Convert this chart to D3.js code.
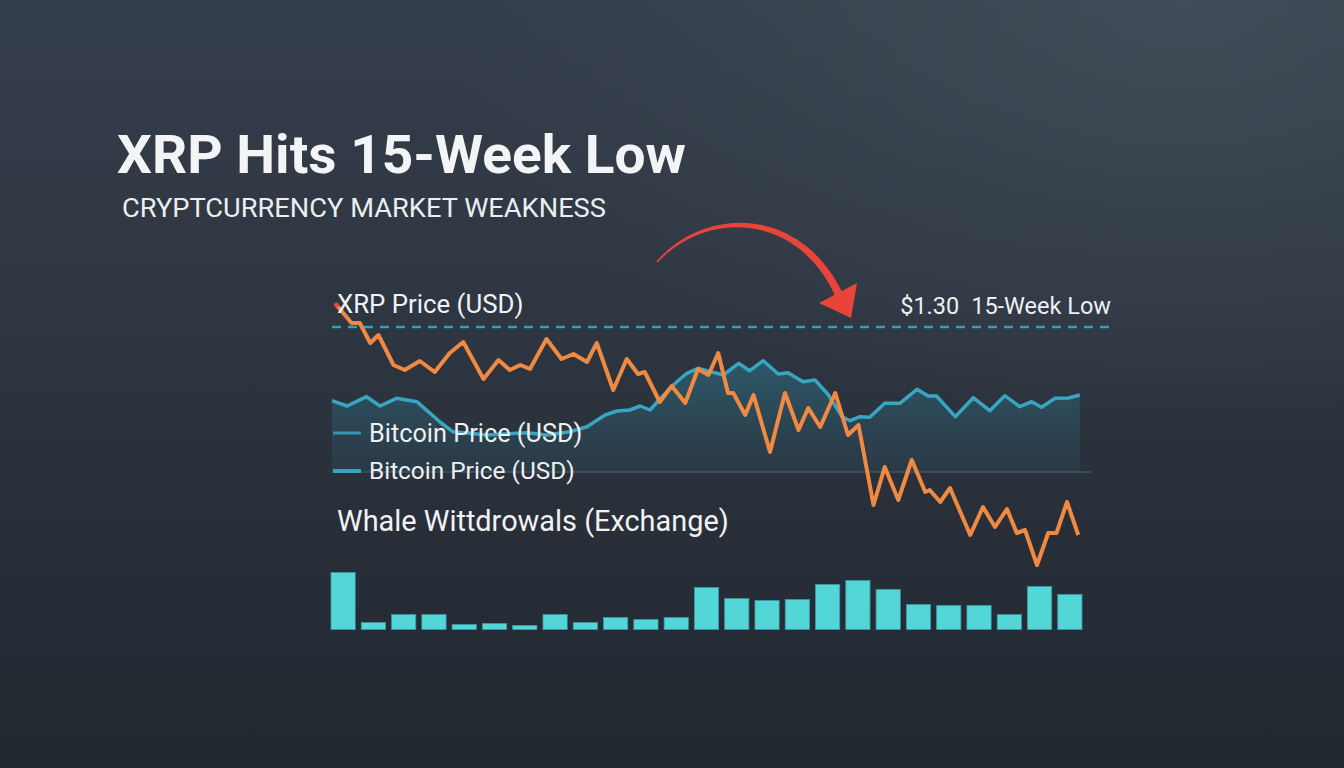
<!DOCTYPE html>
<html>
<head>
<meta charset="utf-8">
<script src="https://cdn.jsdelivr.net/npm/d3@7"></script>
<style>
  html, body { margin: 0; padding: 0; background: #2b323c; }
  #chart { width: 1344px; height: 768px; }
  text { font-family: Roboto, "Noto Sans", sans-serif; }
</style>
</head>
<body>
<div id="chart"></div>
<script>
// XRP price (day index along the 15-week window, price in USD)
const xrpDays = [0.6, 2.6, 3.7, 5.1, 6.2, 8.2, 9.7, 11.7, 13.7, 15.7, 17.5, 20.2, 22.2, 23.7, 25.1, 26.4,
  28.6, 30.6, 32.2, 34.0, 35.3, 37.5, 39.3, 40.8, 41.7, 43.7, 45.3, 47.1, 48.8, 50.2, 51.5, 52.8, 53.5,
  55.1, 56.2, 58.4, 60.4, 62.2, 63.5, 65.1, 67.1, 68.8, 70.2, 72.2, 73.7, 75.5, 77.3, 79.1, 79.7, 81.1,
  82.4, 85.1, 86.8, 88.4, 90.0, 91.3, 92.4, 94.0, 95.5, 96.6, 98.0, 99.5];
const xrpPrice = [1.322, 1.304, 1.304, 1.284, 1.292, 1.262, 1.257, 1.266, 1.255, 1.274, 1.285, 1.248, 1.267,
  1.257, 1.262, 1.258, 1.288, 1.268, 1.273, 1.265, 1.284, 1.237, 1.268, 1.253, 1.255, 1.225, 1.241, 1.224,
  1.258, 1.252, 1.274, 1.234, 1.234, 1.212, 1.232, 1.175, 1.234, 1.197, 1.219, 1.200, 1.234, 1.192, 1.202,
  1.122, 1.160, 1.127, 1.167, 1.135, 1.137, 1.125, 1.139, 1.092, 1.120, 1.100, 1.118, 1.094, 1.097, 1.062,
  1.094, 1.094, 1.125, 1.092];

// Bitcoin price
const btcDays = [0, 2.0, 4.6, 6.4, 8.6, 11.3, 13.1, 14.4, 16.1, 18.4, 20.6, 22.8, 26.0, 28.6, 31.7, 34.0,
  36.4, 38.0, 39.7, 41.1, 42.4, 43.7, 45.5, 47.3, 48.8, 50.0, 52.2, 54.2, 55.7, 57.5, 59.5, 60.8, 62.8,
  64.4, 66.2, 68.0, 69.1, 70.4, 71.7, 73.7, 75.7, 78.0, 79.5, 80.6, 83.1, 85.5, 87.7, 89.7, 91.7, 93.3,
  94.6, 96.4, 98.2, 99.7];
const btcPrice = [89860, 88800, 90660, 88800, 90340, 89660, 87340, 85600, 83660, 83340, 83000, 83200, 83460,
  83000, 83660, 84660, 87000, 87800, 88000, 88800, 88000, 90140, 93000, 95340, 96340, 95860, 95000, 97340,
  95860, 97860, 95200, 95460, 93660, 94000, 91000, 86660, 85860, 86660, 86540, 89340, 89340, 92140, 90800,
  90800, 86660, 90460, 87860, 90860, 88660, 89660, 88540, 90340, 90400, 91000];

// Whale withdrawals from exchanges, one bar per period
const whaleWithdrawals = [57, 7, 15, 15, 5, 6, 4, 15, 7, 12, 10, 12, 42, 31, 29, 30, 45, 49, 40, 25, 24, 24, 15, 43, 35];

const lowPrice = 1.30;
const titleText = "XRP Hits 15-Week Low";
const subtitleText = "CRYPTCURRENCY MARKET WEAKNESS";
const xrpLabel = "XRP Price (USD)";
const btcLabels = ["Bitcoin Price (USD)", "Bitcoin Price (USD)"];
const lowLabel = ["$1.30", "15-Week Low"];
const barsLabel = "Whale Wittdrowals (Exchange)";

const width = 1344, height = 768;

const svg = d3.select("#chart")
    .append("svg")
    .attr("width", width)
    .attr("height", height);

const defs = svg.append("defs");

// background
const bg = defs.append("linearGradient")
    .attr("id", "bg")
    .attr("x1", "0%").attr("y1", "0%")
    .attr("x2", "0%").attr("y2", "100%");
bg.append("stop").attr("offset", "0%").attr("stop-color", "#343e4a");
bg.append("stop").attr("offset", "45%").attr("stop-color", "#2d3540");
bg.append("stop").attr("offset", "100%").attr("stop-color", "#21272f");

const glow = defs.append("radialGradient")
    .attr("id", "glow")
    .attr("cx", "88%").attr("cy", "0%").attr("r", "55%");
glow.append("stop").attr("offset", "0%").attr("stop-color", "#44505b").attr("stop-opacity", 0.75);
glow.append("stop").attr("offset", "100%").attr("stop-color", "#44505b").attr("stop-opacity", 0);

svg.append("rect").attr("width", width).attr("height", height).attr("fill", "url(#bg)");
svg.append("rect").attr("width", width).attr("height", height).attr("fill", "url(#glow)");

// titles
svg.append("text")
    .attr("x", 117).attr("y", 173)
    .style("font-size", "53px")
    .style("font-weight", "700")
    .attr("fill", "#f3f4f5")
    .attr("textLength", 569)
    .attr("lengthAdjust", "spacingAndGlyphs")
    .text(titleText);

svg.append("text")
    .attr("x", 122).attr("y", 217)
    .style("font-size", "26px")
    .attr("fill", "#eceef0")
    .attr("textLength", 484)
    .attr("lengthAdjust", "spacingAndGlyphs")
    .text(subtitleText);

// scales
const x = d3.scaleLinear().domain([0, 100]).range([332, 1082]);
const yXrp = d3.scaleLinear().domain([1.05, 1.35]).range([577, 277]);
const yBtc = d3.scaleLinear().domain([80000, 100000]).range([450, 350]);
const baseY = 472;

// area under bitcoin
const areaGrad = defs.append("linearGradient")
    .attr("id", "btc-area")
    .attr("x1", "0%").attr("y1", "0%")
    .attr("x2", "0%").attr("y2", "100%");
areaGrad.append("stop").attr("offset", "0%").attr("stop-color", "#2f6579").attr("stop-opacity", 0.75);
areaGrad.append("stop").attr("offset", "100%").attr("stop-color", "#2b4a58").attr("stop-opacity", 0.35);

const btcData = btcDays.map((d, i) => [d, btcPrice[i]]);
const xrpData = xrpDays.map((d, i) => [d, xrpPrice[i]]);

svg.append("path")
    .datum(btcData)
    .attr("d", d3.area().x(d => x(d[0])).y0(baseY).y1(d => yBtc(d[1])))
    .attr("fill", "url(#btc-area)");

svg.append("line")
    .attr("x1", 332).attr("x2", 1092)
    .attr("y1", baseY).attr("y2", baseY)
    .attr("stroke", "#3d5663")
    .attr("stroke-width", 1.5);

// 15-week low reference line
svg.append("line")
    .attr("x1", 332).attr("x2", 1116)
    .attr("y1", yXrp(lowPrice)).attr("y2", yXrp(lowPrice))
    .attr("stroke", "#2f9fc2")
    .attr("stroke-width", 2.5)
    .attr("stroke-dasharray", "9,7");

svg.append("path")
    .datum(btcData)
    .attr("d", d3.line().x(d => x(d[0])).y(d => yBtc(d[1])))
    .attr("fill", "none")
    .attr("stroke", "#38a5c1")
    .attr("stroke-width", 3.5)
    .attr("stroke-linejoin", "round");

// legend for bitcoin
const legend = svg.append("g");
legend.selectAll("line")
    .data(btcLabels)
    .join("line")
    .attr("x1", 333).attr("x2", 361)
    .attr("y1", (d, i) => 433 + i * 38).attr("y2", (d, i) => 433 + i * 38)
    .attr("stroke", (d, i) => i === 0 ? "#3596b3" : "#3aa3c0")
    .attr("stroke-width", (d, i) => i === 0 ? 3 : 4);
legend.selectAll("text")
    .data(btcLabels)
    .join("text")
    .attr("x", 369)
    .attr("y", (d, i) => 442 + i * 37)
    .style("font-size", (d, i) => i === 0 ? "25.3px" : "24.4px")
    .attr("fill", "#eef0f2")
    .text(d => d);

svg.append("path")
    .datum(xrpData)
    .attr("d", d3.line().x(d => x(d[0])).y(d => yXrp(d[1])))
    .attr("fill", "none")
    .attr("stroke", "#f08a42")
    .attr("stroke-width", 4)
    .attr("stroke-linejoin", "round");

svg.append("circle")
    .attr("cx", x(xrpDays[0])).attr("cy", yXrp(xrpPrice[0]))
    .attr("r", 2.5)
    .attr("fill", "#e8453a");

svg.append("text")
    .attr("x", 337).attr("y", 313)
    .style("font-size", "25.8px")
    .attr("fill", "#f1f2f4")
    .text(xrpLabel);

svg.append("text")
    .attr("x", 1111).attr("y", 314)
    .attr("text-anchor", "end")
    .style("font-size", "23.5px")
    .attr("fill", "#eef0f2")
    .text(lowLabel.join("\u2002"));

// red arrow: tapered curve
const p0 = [657, 262], p1 = [705, 208], p2 = [800, 208], p3 = [840, 297];
function bez(t) {
    const u = 1 - t;
    return [0, 1].map(k => u * u * u * p0[k] + 3 * u * u * t * p1[k] + 3 * u * t * t * p2[k] + t * t * t * p3[k]);
}
const left = [], right = [];
d3.range(0, 1.0001, 0.02).forEach(t => {
    const a = bez(Math.max(0, t - 0.01)), b = bez(Math.min(1, t + 0.01));
    const dx = b[0] - a[0], dy = b[1] - a[1], len = Math.hypot(dx, dy);
    const nx = -dy / len, ny = dx / len;
    const w = 0.8 + 3.2 * t;
    const c = bez(t);
    left.push([c[0] + nx * w, c[1] + ny * w]);
    right.push([c[0] - nx * w, c[1] - ny * w]);
});
svg.append("path")
    .attr("d", d3.line()(left.concat(right.reverse())) + "Z")
    .attr("fill", "#e8443a");
svg.append("path")
    .attr("d", "M819,303 L857,283 L851,318 Z")
    .attr("fill", "#e8443a");

// whale withdrawals bars
svg.append("text")
    .attr("x", 337).attr("y", 531)
    .style("font-size", "28.9px")
    .attr("fill", "#f1f2f4")
    .text(barsLabel);

const xb = d3.scaleBand()
    .domain(d3.range(whaleWithdrawals.length))
    .range([331, 1082])
    .paddingInner(0.2)
    .paddingOuter(0);
const yb = d3.scaleLinear().domain([0, 60]).range([629.5, 569.5]);

svg.append("g")
    .selectAll("rect")
    .data(whaleWithdrawals)
    .join("rect")
    .attr("x", (d, i) => xb(i))
    .attr("y", d => yb(d))
    .attr("width", xb.bandwidth())
    .attr("height", d => yb(0) - yb(d))
    .attr("fill", "#53d7d6")
    .attr("stroke", "#3c98ab")
    .attr("stroke-width", 0.8);
</script>
</body>
</html>
